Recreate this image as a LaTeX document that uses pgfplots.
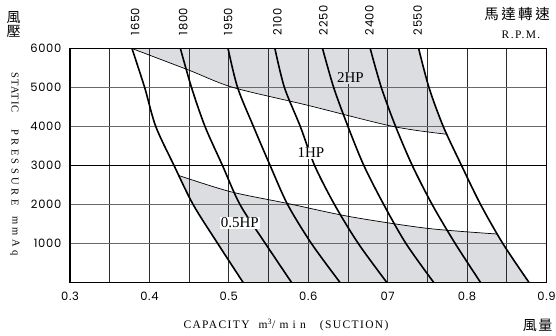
\documentclass[border=0pt]{standalone}
\usepackage{fontspec}
\usepackage{pgfplots}
\pgfplotsset{compat=1.18}
\setmainfont{Liberation Serif}
\newfontfamily\tickfont[LetterSpace=6]{Poppins}
\newfontfamily\cjk{Noto Sans CJK TC}
\newfontfamily\lsA[LetterSpace=12]{Liberation Serif}
\newfontfamily\lsS[LetterSpace=10]{Liberation Serif}
\newfontfamily\lsP[LetterSpace=34]{Liberation Serif}
\newfontfamily\lsM[LetterSpace=30]{Liberation Serif}
\definecolor{shade}{RGB}{220,221,224}
\definecolor{hgrid}{RGB}{105,105,105}
\definecolor{vgrid}{RGB}{45,45,45}
\begin{document}
\begin{tikzpicture}
\begin{axis}[
  at={(70pt,53.5pt)}, anchor=south west, scale only axis,
  width=476.5pt, height=234pt,
  xmin=0.3, xmax=0.9, ymin=0, ymax=6000,
  set layers,
  xtick={0.3,0.35,0.4,0.45,0.5,0.55,0.6,0.65,0.7,0.75,0.8,0.85,0.9},
  xticklabels={0.3,{},0.4,{},0.5,{},0.6,{},07,{},0.8,{},0.9},
  ytick={1000,2000,4000,5000,6000},
  extra y ticks={3000},
  extra y tick style={y grid style={black, line width=1pt}},
  major tick length=0pt,
  xmajorgrids, ymajorgrids,
  x grid style={vgrid, line width=0.9pt},
  y grid style={hgrid, line width=1.4pt},
  axis line style={black, line width=1.6pt},
  scaled y ticks=false,
  /pgf/number format/1000 sep={},
  /pgf/number format/assume math mode=true,
  tick label style={font=\tickfont\fontsize{11.5}{11.5}\selectfont},
  xticklabel style={inner sep=0pt, anchor=north, yshift=-9.5pt},
  yticklabel style={inner sep=0pt, anchor=east, xshift=-8.5pt},
]
% shaded regions
\addplot[on layer=axis background, fill=shade, draw=none] coordinates {
 (0.378,6000)(0.449,5450)(0.5055,5000)(0.598,4550)(0.707,4000)(0.775,3800)
 (0.770,4000)(0.752,5000)(0.739,6000)(0.378,6000)};
\addplot[on layer=axis background, fill=shade, draw=none] coordinates {
 (0.4375,2740)(0.5017,2330)(0.5732,2030)(0.653,1687)(0.7497,1389)(0.838,1243)
 (0.845,1000)(0.878,0)(0.518,0)(0.486,1000)(0.455,2000)(0.4375,2740)};
% HP lines
\addplot[black, line width=0.7pt, smooth] coordinates {
 (0.378,6000)(0.449,5450)(0.5055,5000)(0.598,4550)(0.707,4000)(0.775,3800)};
\addplot[black, line width=0.7pt, smooth] coordinates {
 (0.4375,2740)(0.5017,2330)(0.5732,2030)(0.653,1687)(0.7497,1389)(0.838,1243)};
% RPM curves
\addplot[black, line width=1.6pt, smooth] coordinates {(0.378,6000)(0.394,5000)(0.408,4000)(0.431,3000)(0.455,2000)(0.486,1000)(0.518,0)};
\addplot[black, line width=1.6pt, smooth] coordinates {(0.439,6000)(0.453,5000)(0.470,4000)(0.492,3000)(0.514,2000)(0.546,1000)(0.579,0)};
\addplot[black, line width=1.6pt, smooth] coordinates {(0.499,6000)(0.511,5000)(0.531,4000)(0.552,3000)(0.574,2000)(0.604,1000)(0.640,0)};
\addplot[black, line width=1.6pt, smooth] coordinates {(0.558,6000)(0.570,5000)(0.590,4000)(0.608,3000)(0.633,2000)(0.663,1000)(0.699,0)};
\addplot[black, line width=1.6pt, smooth] coordinates {(0.618,6000)(0.632,5000)(0.650,4000)(0.670,3000)(0.695,2000)(0.723,1000)(0.758,0)};
\addplot[black, line width=1.6pt, smooth] coordinates {(0.678,6000)(0.692,5000)(0.710,4000)(0.731,3000)(0.756,2000)(0.785,1000)(0.817,0)};
\addplot[black, line width=1.6pt, smooth] coordinates {(0.739,6000)(0.752,5000)(0.770,4000)(0.793,3000)(0.817,2000)(0.845,1000)(0.878,0)};
% labels
\node[fill=shade, inner sep=1pt, font=\fontsize{15}{15}\selectfont] at (axis cs:0.6531,5244) {2HP};
\node[fill=white, inner sep=1pt, font=\fontsize{15}{15}\selectfont] at (axis cs:0.6033,3321) {1HP};
\node[fill=white, inner sep=1pt, font=\fontsize{15}{15}\selectfont] at (axis cs:0.5137,1526) {0.5HP};
\coordinate (r1) at (axis cs:0.382,6000);
\coordinate (r2) at (axis cs:0.4425,6000);
\coordinate (r3) at (axis cs:0.499,6000);
\coordinate (r4) at (axis cs:0.561,6000);
\coordinate (r5) at (axis cs:0.619,6000);
\coordinate (r6) at (axis cs:0.677,6000);
\coordinate (r7) at (axis cs:0.7376,6000);
\end{axis}
\foreach \c/\t in {r1/1650,r2/1800,r3/1950,r4/2100,r5/2250,r6/2400,r7/2550}{
  \node[rotate=90, anchor=west, inner sep=0pt,
        font=\tickfont\fontsize{11.5}{11.5}\selectfont] at ([yshift=13pt]\c) {\t};
}
\node[font=\cjk\fontsize{14}{14}\selectfont, inner sep=0pt] at (13.5pt,318.5pt) {風};
\node[font=\cjk\fontsize{14}{14}\selectfont, inner sep=0pt] at (13.5pt,305pt) {壓};
\node[font=\cjk\fontsize{14.5}{14.5}\selectfont, inner sep=0pt] at (517pt,322pt) {馬\hspace{2.5pt}達\hspace{2.5pt}轉\hspace{2.5pt}速};
\node[font=\lsA\fontsize{11.5}{11.5}\selectfont, inner sep=0pt, anchor=base] at (521pt,297.7pt) {R.P.M.};
\node[font=\cjk\fontsize{14}{14}\selectfont, inner sep=0pt] at (537.5pt,10.5pt) {風\hspace{1.5pt}量};
\node[font=\lsA\fontsize{11.5}{11.5}\selectfont, inner sep=0pt, anchor=base] at (286pt,7pt) {CAPACITY\hspace{9pt}m\textsuperscript{3}/ m i n\hspace{14pt}(SUCTION)};
\node[font=\lsS\fontsize{10.5}{10.5}\selectfont, inner sep=0pt, rotate=-90] at (15pt,243pt) {STATIC};
\node[font=\lsP\fontsize{10.5}{10.5}\selectfont, inner sep=0pt, rotate=-90] at (15pt,168.5pt) {PRESSURE};
\node[font=\lsM\fontsize{10.5}{10.5}\selectfont, inner sep=0pt, rotate=-90] at (15pt,100pt) {mmAq};
\pgfresetboundingbox
\useasboundingbox (0pt,0pt) rectangle (556pt,336pt);
\end{tikzpicture}
\end{document}
